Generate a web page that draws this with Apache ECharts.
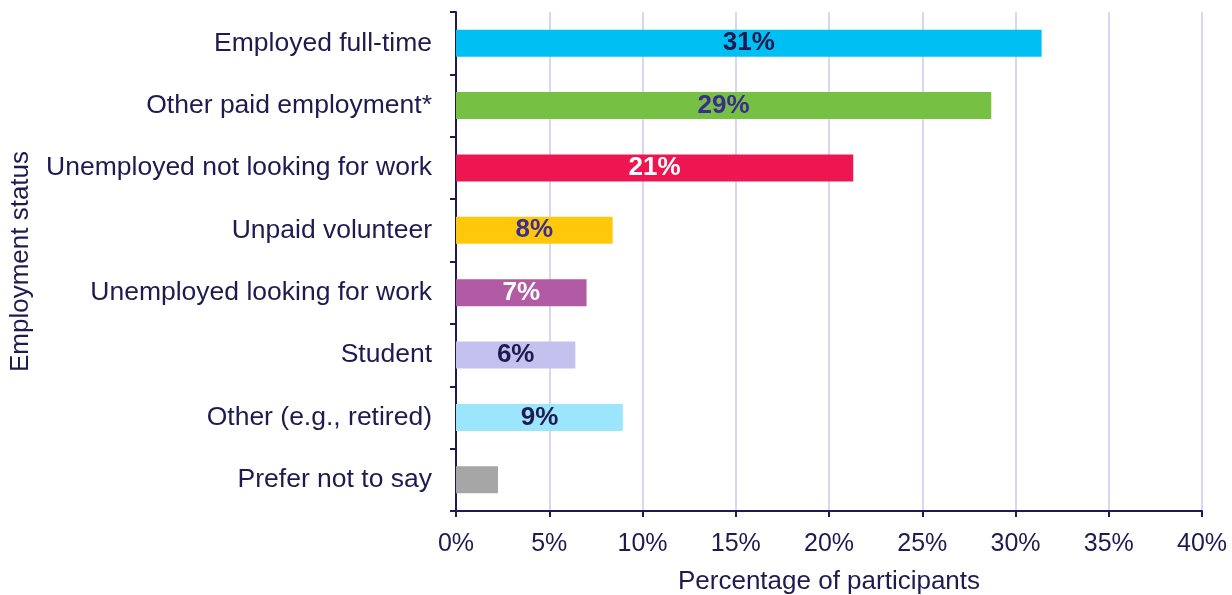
<!DOCTYPE html>
<html>
<head>
<meta charset="utf-8">
<script src="https://cdn.jsdelivr.net/npm/echarts@6/dist/echarts.min.js"></script>
<style>
  html, body { margin: 0; padding: 0; background: #ffffff; }
  #chart { width: 1232px; height: 595px; }
</style>
</head>
<body>
<div id="chart"></div>
<script>
// Employment status of participants (share of all participants, %)
const categories = [
  'Employed full-time',
  'Other paid employment*',
  'Unemployed not looking for work',
  'Unpaid volunteer',
  'Unemployed looking for work',
  'Student',
  'Other (e.g., retired)',
  'Prefer not to say'
];
const values = [31.4, 28.7, 21.3, 8.4, 7.0, 6.4, 8.95, 2.25];
const barColors = ['#00BFF3', '#76C043', '#EE1650', '#FFC80A', '#B05BA3', '#C5C1EE', '#9BE6FC', '#A6A6A6'];
const labelColors = ['#1F1A4F', '#3B2D8F', '#FFFFFF', '#3B2D8F', '#FFFFFF', '#1F1A4F', '#1F1A4F', null];
const xTicks = [0, 5, 10, 15, 20, 25, 30, 35, 40];

const ink = '#1F1A4F';
const font = '"Liberation Sans", Arial, sans-serif';

const chart = echarts.init(document.getElementById('chart'));

const data = values.map((v, i) => ({
  value: v,
  itemStyle: { color: barColors[i] },
  label: labelColors[i]
    ? { show: true, color: labelColors[i] }
    : { show: false }
}));

chart.setOption({
  animation: false,
  textStyle: { fontFamily: font },
  grid: {
    left: 456, right: 30, top: 12, bottom: 84,
    containLabel: false,
    outerBoundsMode: 'none'
  },
  xAxis: {
    type: 'value',
    min: xTicks[0],
    max: xTicks[xTicks.length - 1],
    interval: xTicks[1] - xTicks[0],
    name: 'Percentage of participants',
    nameLocation: 'middle',
    nameGap: 58,
    nameTextStyle: { color: ink, fontSize: 26, fontFamily: font },
    axisLine: { show: true, lineStyle: { color: ink, width: 2 } },
    axisTick: { show: true, length: 6, lineStyle: { color: ink, width: 2 } },
    axisLabel: { color: ink, fontSize: 25, fontFamily: font, margin: 21, formatter: v => v + '%' },
    splitLine: { show: true, lineStyle: { color: '#D9D5F2', width: 2 } }
  },
  yAxis: {
    type: 'category',
    data: categories,
    inverse: true,
    name: 'Employment status',
    nameLocation: 'middle',
    nameGap: 422,
    nameRotate: 90,
    nameTextStyle: { color: ink, fontSize: 26, fontFamily: font },
    axisLine: { show: true, lineStyle: { color: ink, width: 2 } },
    axisTick: { show: true, length: 6, lineStyle: { color: ink, width: 2 } },
    axisLabel: { color: ink, fontSize: 26.5, fontFamily: font, margin: 24 },
    splitLine: { show: false }
  },
  series: [{
    type: 'bar',
    data: data,
    barWidth: 27,
    label: {
      show: true,
      position: 'inside',
      fontSize: 26,
      fontWeight: 'bold',
      fontFamily: font,
      formatter: p => Math.round(p.value) + '%'
    }
  }]
});
</script>
</body>
</html>
